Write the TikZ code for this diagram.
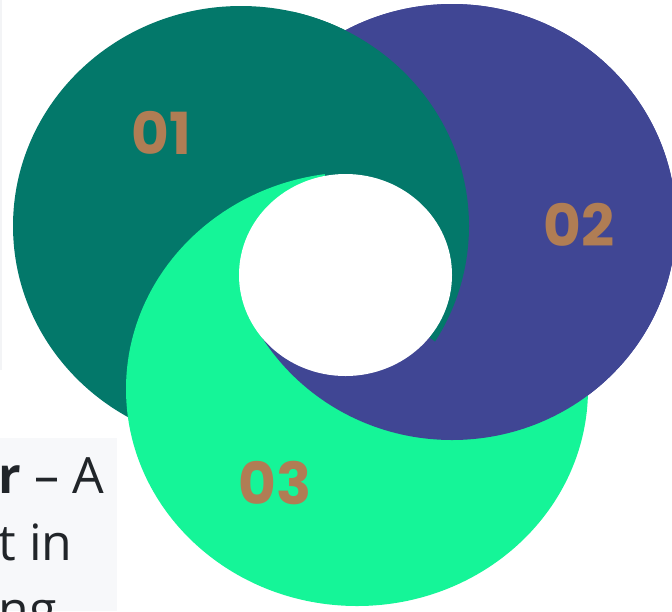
\documentclass[tikz,border=0pt]{standalone}
\usepackage{fontspec}
\newfontfamily\numfont{Poppins}
\newfontfamily\txtfont{Open Sans}
\definecolor{tealc}{HTML}{03786A}
\definecolor{indc}{HTML}{404694}
\definecolor{grnc}{HTML}{15F598}
\definecolor{numc}{HTML}{B07D54}
\definecolor{panelc}{HTML}{F7F8FA}
\definecolor{stripc}{HTML}{F3F4F6}
\definecolor{txtc}{HTML}{212529}
\tikzset{
  num/.style={inner sep=0pt, text=numc, font=\numfont\bfseries\fontsize{29}{30}\selectfont},
  paneltext/.style={inner sep=0pt, anchor=base west, text=txtc, font=\txtfont\fontsize{25}{33}\selectfont},
  tcirc/.style={fill=tealc},
  icirc/.style={fill=indc},
  gcirc/.style={fill=grnc}
}
\newcommand{\tealdisk}{\path[tcirc] (241,226) ellipse [x radius=228, y radius=220];}
\newcommand{\inddisk}{\path[icirc] (452,222) ellipse [x radius=224, y radius=218];}
\newcommand{\grndisk}{\path[gcirc] (357,389) ellipse [x radius=231, y radius=217];}
\begin{document}
\begin{tikzpicture}[x=0.5pt,y=-0.5pt]
\useasboundingbox (0,0) rectangle (672,611);
\clip (0,0) rectangle (672,611);
% page fragments on the left
\fill[stripc] (0,0) rectangle (2,370);
\fill[panelc] (0,438) rectangle (117,611);
\node[paneltext] (l1) at (-2,493) {\textbf{r} – A};
\node[paneltext] (l2) at (-2,560) {t in};
\node[paneltext] (l3) at (-2,627) {ng};
% swirl of three disks: base order indigo, teal, green
\coordinate (O) at (345,275);
\inddisk \tealdisk \grndisk
% indigo on top in the lower and right sectors
\begin{scope}
  \clip (O) -- (-605,755) -- (-605,2000) -- (2000,2000) -- (2000,-725) -- (175,-725) -- cycle;
  \inddisk
\end{scope}
% teal on top in the right sector
\begin{scope}
  \clip (O) -- (1265,955) -- (2000,955) -- (2000,-725) -- (145,-725) -- cycle;
  \tealdisk
\end{scope}
\fill[white] (345.5,275) ellipse [x radius=106.5, y radius=101];
% labels
\node[num] (n1) at (161,133) {01};
\node[num] (n2) at (579,225) {02};
\node[num] (n3) at (275,483) {03};
\end{tikzpicture}
\end{document}
